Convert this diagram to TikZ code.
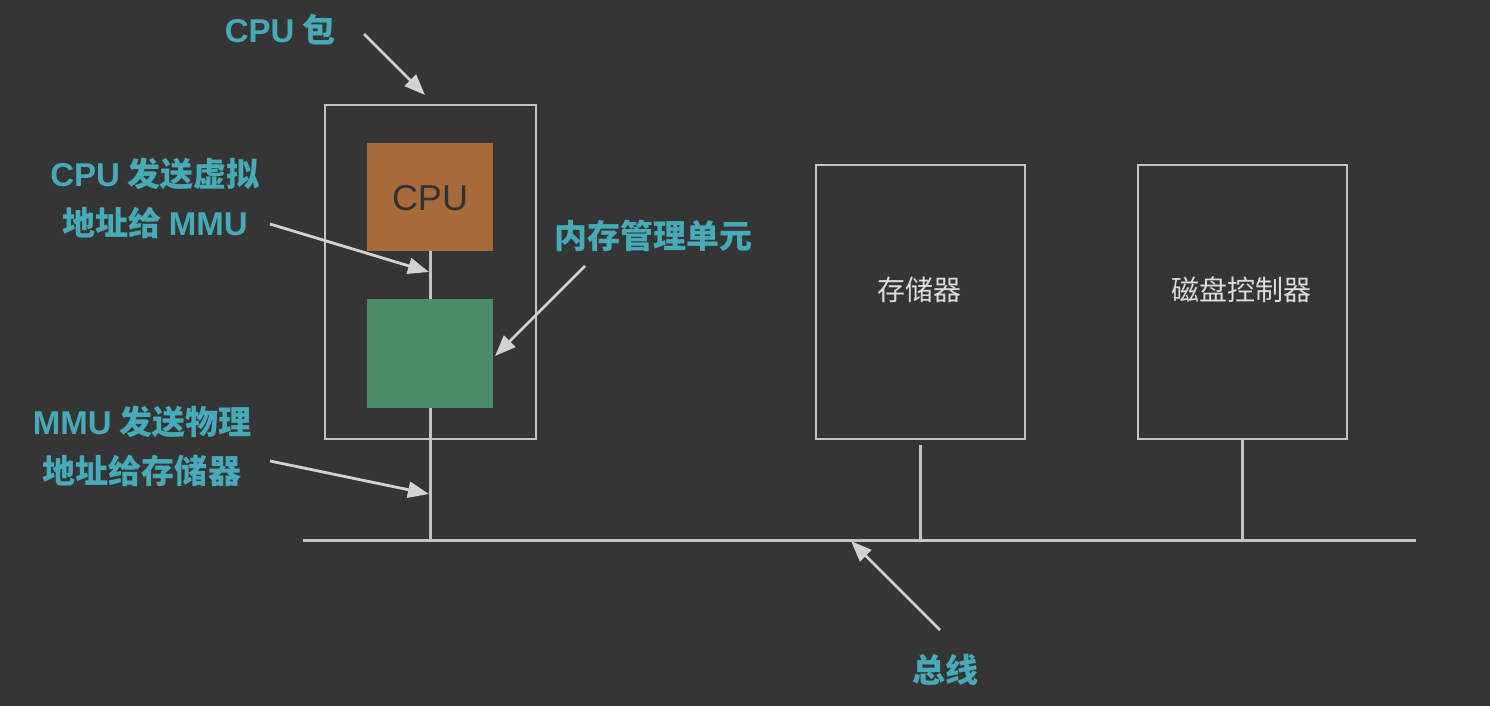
\documentclass[tikz,border=0pt]{standalone}
\usepackage{fontspec}
\newfontfamily\cjk{Noto Sans CJK SC}
\newfontfamily\lat{Liberation Sans}
\usetikzlibrary{arrows.meta}
\definecolor{bg}{HTML}{353535}
\definecolor{teal}{HTML}{46AAB8}
\definecolor{stroke}{HTML}{C4C4C4}
\definecolor{arr}{HTML}{D2D2D2}
\definecolor{cpuc}{HTML}{A66B38}
\definecolor{mmuc}{HTML}{4A8C68}
\begin{document}
\begin{tikzpicture}[x=1pt,y=-1pt,
  frame/.style={draw=stroke, line width=1.8pt, inner sep=0pt, anchor=north west},
  chip/.style={inner sep=0pt, anchor=north west},
  lbl/.style={text=teal, font=\cjk\bfseries\fontsize{33}{49}\selectfont, align=center, inner sep=0pt},
  boxtxt/.style={text=stroke!60!white, font=\cjk\fontsize{28}{32}\selectfont, inner sep=0pt},
  wire/.style={draw=stroke, line width=2.6pt},
  pointer/.style={draw=arr, line width=2.8pt, -{Triangle[length=21pt,width=16pt]}}]
\fill[bg] (0,0) rectangle (1490,706);
\useasboundingbox (0,0) rectangle (1490,706);
% boxes
\node[frame, minimum width=211pt, minimum height=334pt] (pkg) at (324,104) {};
\node[chip, fill=cpuc, minimum width=126pt, minimum height=108pt] (cpu) at (367,143) {};
\node[text=bg!95!black, font=\lat\fontsize{36}{38}\selectfont, inner sep=0pt] (cputxt) at (430,198) {CPU};
\node[chip, fill=mmuc, minimum width=126pt, minimum height=109pt] (mmu) at (367,299) {};
\node[frame, minimum width=209pt, minimum height=274pt] (mem) at (815,164) {};
\node[boxtxt] (memtxt) at (919.5,290) {存储器};
\node[frame, minimum width=209pt, minimum height=274pt] (disk) at (1137,164) {};
\node[boxtxt] (disktxt) at (1241.5,290) {磁盘控制器};
% bus
\coordinate (busL) at (303,540);
\coordinate (busR) at (1416,540);
\draw[wire, line width=3pt] (busL) -- (busR);
\draw[wire] (cpu.south) -- (mmu.north);
\draw[wire] (mmu.south) -- (mmu.south |- busL);
\draw[wire, shorten <=5pt] (mem.south) -- (mem.south |- busL);
\draw[wire] (disk.south) -- (disk.south |- busL);
% labels
\node[lbl] (lpkg) at (280,30) {{\lat CPU} 包};
\node[lbl] (lvirt) at (155,198) {{\lat CPU} 发送虚拟\\地址给 {\lat MMU}};
\node[lbl] (lmmu) at (653,236) {内存管理单元};
\node[lbl] (lphys) at (142,446) {{\lat MMU} 发送物理\\地址给存储器};
\node[lbl] (lbus) at (945,670) {总线};
% arrows
\coordinate (a1s) at (364,34);  \coordinate (a1e) at (425,95);
\coordinate (a2s) at (270,224); \coordinate (a2e) at (429,272);
\coordinate (a3s) at (585,266); \coordinate (a3e) at (495,356);
\coordinate (a4s) at (270,461); \coordinate (a4e) at (429,494);
\coordinate (a5s) at (940,630); \coordinate (a5e) at (851,541);
\draw[pointer] (a1s) -- (a1e);
\draw[pointer] (a2s) -- (a2e);
\draw[pointer] (a3s) -- (a3e);
\draw[pointer] (a4s) -- (a4e);
\draw[pointer] (a5s) -- (a5e);
\end{tikzpicture}
\end{document}
